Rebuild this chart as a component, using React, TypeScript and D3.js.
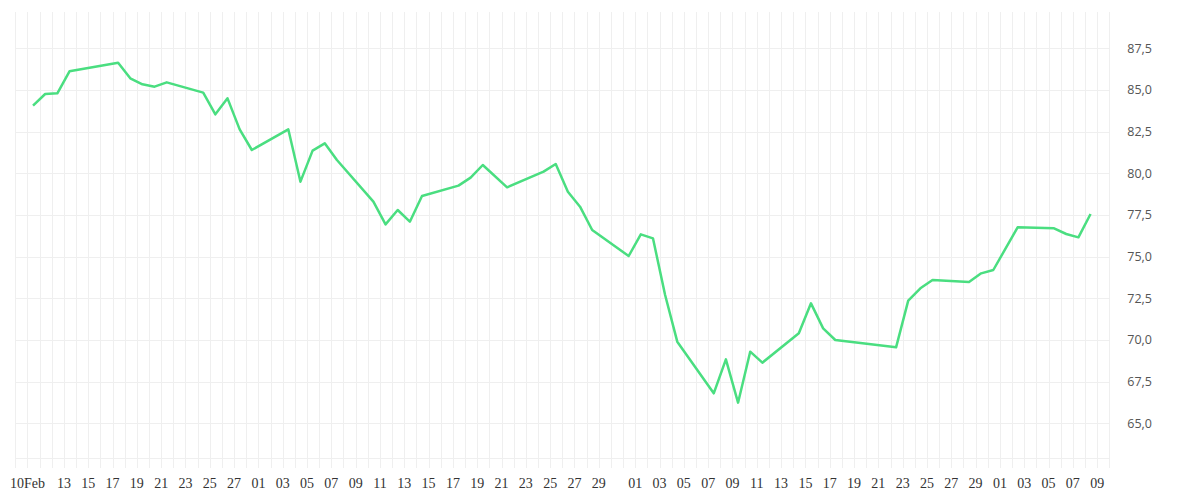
import React from 'react';
import * as d3 from 'd3';

// daily closes (weekdays only, holidays skipped)
const dates = [
  '2025-02-10', '2025-02-11', '2025-02-12', '2025-02-13', '2025-02-17', '2025-02-18', '2025-02-19',
  '2025-02-20', '2025-02-21', '2025-02-24', '2025-02-25', '2025-02-26', '2025-02-27', '2025-02-28',
  '2025-03-03', '2025-03-04', '2025-03-05', '2025-03-06', '2025-03-07', '2025-03-10', '2025-03-11',
  '2025-03-12', '2025-03-13', '2025-03-14', '2025-03-17', '2025-03-18', '2025-03-19', '2025-03-21',
  '2025-03-24', '2025-03-25', '2025-03-26', '2025-03-27', '2025-03-28', '2025-03-31', '2025-04-01',
  '2025-04-02', '2025-04-03', '2025-04-04', '2025-04-07', '2025-04-08', '2025-04-09', '2025-04-10',
  '2025-04-11', '2025-04-14', '2025-04-15', '2025-04-16', '2025-04-17', '2025-04-22', '2025-04-23',
  '2025-04-24', '2025-04-25', '2025-04-28', '2025-04-29', '2025-04-30', '2025-05-02', '2025-05-05',
  '2025-05-06', '2025-05-07', '2025-05-08',
];

const values = [
  84.06, 84.76, 84.8, 86.12, 86.64, 85.7, 85.34,
  85.2, 85.46, 84.84, 83.54, 84.5, 82.64, 81.4,
  82.64, 79.5, 81.36, 81.8, 80.8, 78.3, 76.94,
  77.8, 77.1, 78.64, 79.26, 79.74, 80.5, 79.16,
  80.1, 80.56, 78.9, 78.0, 76.6, 75.04, 76.34,
  76.1, 72.7, 69.9, 66.8, 68.84, 66.24, 69.3,
  68.64, 70.4, 72.2, 70.7, 70.0, 69.56, 72.36,
  73.1, 73.6, 73.48, 74.0, 74.2, 76.76, 76.7,
  76.36, 76.16, 77.56,
];

const tickDates = [
  '2025-02-10', '2025-02-13', '2025-02-15', '2025-02-17', '2025-02-19', '2025-02-21', '2025-02-23',
  '2025-02-25', '2025-02-27', '2025-03-01', '2025-03-03', '2025-03-05', '2025-03-07', '2025-03-09',
  '2025-03-11', '2025-03-13', '2025-03-15', '2025-03-17', '2025-03-19', '2025-03-21', '2025-03-23',
  '2025-03-25', '2025-03-27', '2025-03-29', '2025-04-01', '2025-04-03', '2025-04-05', '2025-04-07',
  '2025-04-09', '2025-04-11', '2025-04-13', '2025-04-15', '2025-04-17', '2025-04-19', '2025-04-21',
  '2025-04-23', '2025-04-25', '2025-04-27', '2025-04-29', '2025-05-01', '2025-05-03', '2025-05-05',
  '2025-05-07', '2025-05-09',
];

const priceTicks = [65, 67.5, 70, 72.5, 75, 77.5, 80, 82.5, 85, 87.5];

const xStart = '2025-02-09';
const xEnd = '2025-05-10';
const yDomain = [62.92, 89.68];
const closeHour = 11; // points sit late morning of each day

const W = 1200;
const H = 500;
const left = 15.3;
const right = 1109.3;
const top = 12;
const bottom = 458;

const parse = d3.utcParse('%Y-%m-%d');
const fmtPrice = d3.formatLocale({ decimal: ',', thousands: '.', grouping: [3], currency: ['', '€'] }).format('.1f');

export default function App() {
  const x = d3.scaleUtc().domain([parse(xStart)!, parse(xEnd)!]).range([left, right]);
  const y = d3.scaleLinear().domain(yDomain).range([bottom, top]);

  const points = dates.map((d, i) => ({ t: d3.utcHour.offset(parse(d)!, closeHour), v: values[i] }));
  const line = d3.line<{ t: Date; v: number }>()
    .x(d => x(d.t))
    .y(d => y(d.v));

  const days = d3.utcDay.range(parse(xStart)!, d3.utcDay.offset(parse(xEnd)!, 1));
  const crisp = (v: number) => Math.round(v) + 0.5;

  return (
    <svg width={W} height={H} style={{ position: 'absolute', left: 0, top: 0, display: 'block' }}>
      <rect width={W} height={H} fill="#fff" />
      <g stroke="#efefef" strokeWidth={1}>
        {days.map((d, i) => (
          <line key={i} x1={crisp(x(d))} x2={crisp(x(d))} y1={top} y2={bottom + 10} />
        ))}
        {priceTicks.map(t => (
          <line key={t} x1={left} x2={right} y1={crisp(y(t))} y2={crisp(y(t))} />
        ))}
        <line x1={left} x2={right} y1={crisp(bottom)} y2={crisp(bottom)} />
      </g>
      <path d={line(points) ?? ''} fill="none" stroke="#4ade80" strokeWidth={2.5} strokeLinejoin="round" />
      <g fontFamily="'Open Sans', sans-serif" fontSize={12.5} fill="#555">
        {priceTicks.map(t => (
          <text key={t} x={right + 18} y={y(t)} dy="0.35em">{fmtPrice(t)}</text>
        ))}
      </g>
      <g fontSize={14} fill="#333" textAnchor="middle">
        {tickDates.map((d, i) => {
          const dt = parse(d)!;
          const label = i === 0 ? d3.utcFormat('%d%b')(dt) : d3.utcFormat('%d')(dt);
          return <text key={d} x={x(dt)} y={488}>{label}</text>;
        })}
      </g>
    </svg>
  );
}
